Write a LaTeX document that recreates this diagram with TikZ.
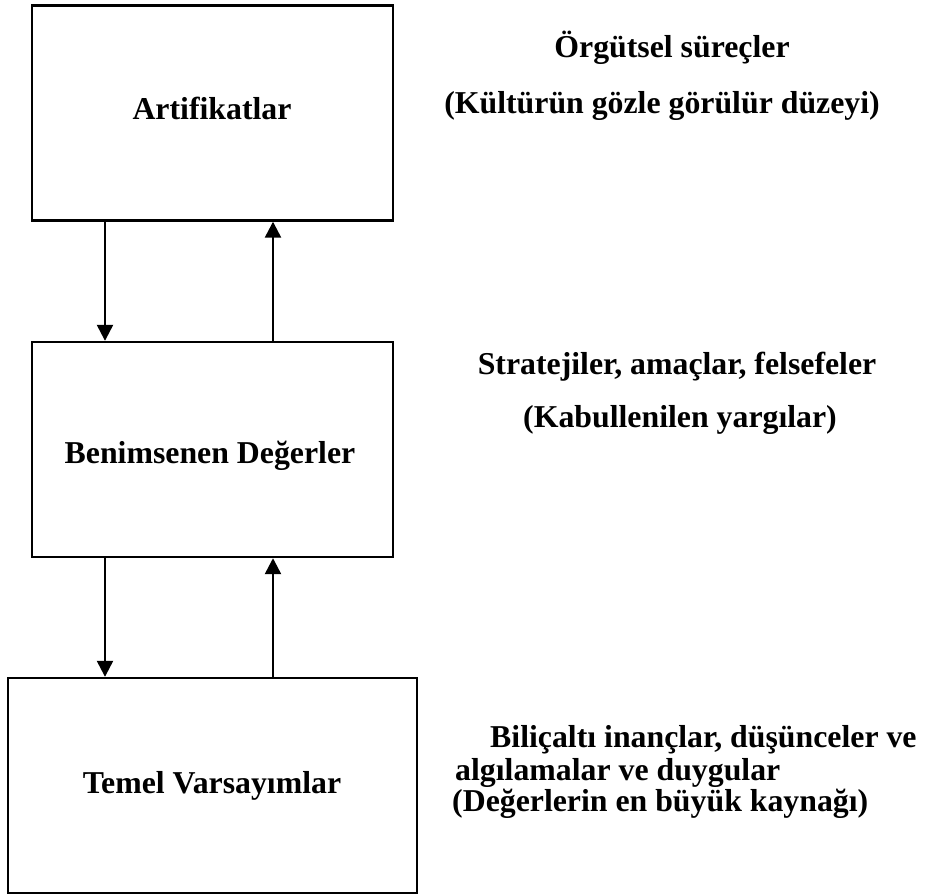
\documentclass[tikz,border=0pt]{standalone}
\usepackage{fontspec}
\setmainfont{Liberation Serif}
\usetikzlibrary{arrows.meta}
\begin{document}
\begin{tikzpicture}[x=1pt,y=-1pt,
  box/.style={draw=black,line width=2.4pt,minimum width=#1,inner sep=0pt,minimum height=215pt},
  txt/.style={font=\bfseries\fontsize{31.8}{36}\selectfont,inner sep=0pt},
  conn/.style={line width=2.4pt,-{Triangle[length=16pt,width=16pt]}}]
\useasboundingbox (0,0) rectangle (928,895);
\node[box=361pt] (b1) at (212.5,113) {};
\node[box=361pt] (b2) at (212.5,449.5) {};
\node[box=409pt] (b3) at (212.5,785.5) {};
\node[txt,anchor=base] (t1) at (212,119) {Artifikatlar};
\node[txt,anchor=base] (t2) at (210,463) {Benimsenen Değerler};
\node[txt,anchor=base] (t3) at (212,793) {Temel Varsayımlar};
\node[txt,anchor=base] (r1) at (672,57) {Örgütsel süreçler};
\node[txt,anchor=base] (r2) at (662,113) {(Kültürün gözle görülür düzeyi)};
\node[txt,anchor=base] (r3) at (677,374) {Stratejiler, amaçlar, felsefeler};
\node[txt,anchor=base] (r4) at (680,427) {(Kabullenilen yargılar)};
\node[txt,anchor=base west] (r5) at (490,747) {Biliçaltı inançlar, düşünceler ve};
\node[txt,anchor=base west] (r6) at (455,780) {algılamalar ve duygular};
\node[txt,anchor=base west] (r7) at (452,811) {(Değerlerin en büyük kaynağı)};
\draw[conn] (b1.south west -| 105,0) -- (b2.north west -| 105,0);
\draw[conn] (b2.north west -| 273,0) -- (b1.south west -| 273,0);
\draw[conn] (b2.south west -| 105,0) -- (b3.north west -| 105,0);
\draw[conn] (b3.north west -| 273,0) -- (b2.south west -| 273,0);
\end{tikzpicture}
\end{document}
